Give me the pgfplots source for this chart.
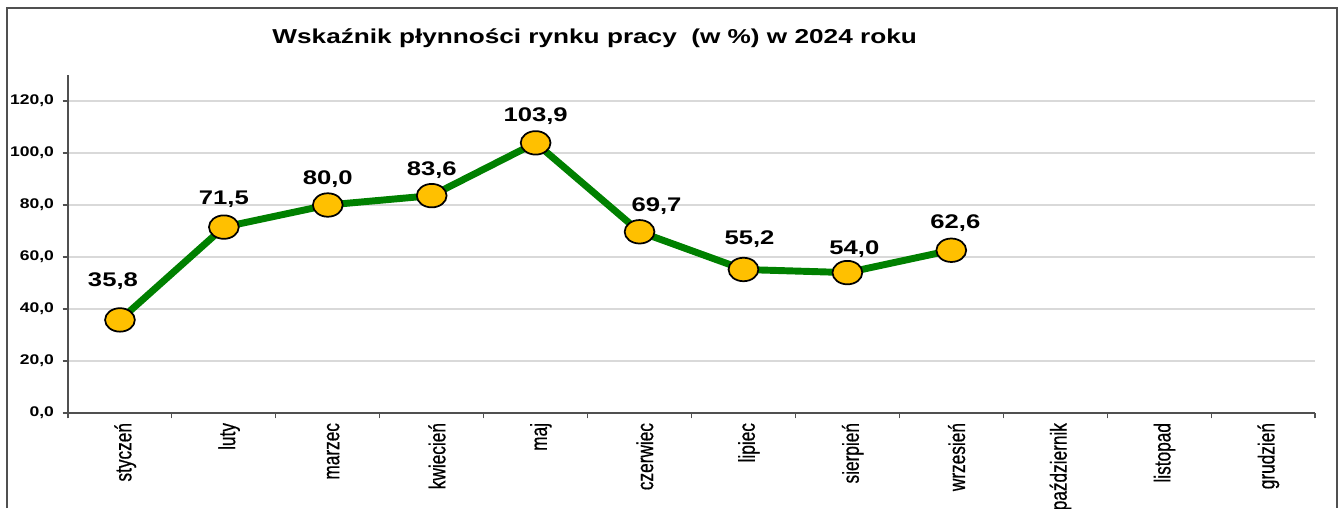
\documentclass[border=0pt]{standalone}
\usepackage{pgfplots}
\pgfplotsset{compat=1.18}
\usepackage{pgfplotstable}
\usepackage{fontspec}
\setmainfont{Liberation Sans}
\newfontfamily\widefont[FakeStretch=1.3]{Liberation Sans}
\newfontfamily\tickfont[FakeStretch=1.25]{Liberation Sans}
\newfontfamily\narrowfont[FakeStretch=0.75,FakeBold=0.6]{Liberation Sans}
\definecolor{lgreen}{HTML}{008000}
\definecolor{lgold}{HTML}{FFC000}
\definecolor{gridc}{HTML}{D9D9D9}
\definecolor{axc}{HTML}{505050}
\pgfplotstableread{
x y dx dy
1 35.8 -7 39
2 71.5 0 28
3 80.0 0 26
4 83.6 0 26
5 103.9 0 27
6 69.7 17 26
7 55.2 6 30
8 54.0 7 23
9 62.6 4 27
}\datatable
\begin{document}
\begin{tikzpicture}
\path[use as bounding box] (0,0) rectangle (1008pt,381pt);
\draw[axc, line width=1.1pt] (5.25pt,0pt) -- (5.25pt,375pt) -- (1002.75pt,375pt) -- (1002.75pt,0pt);
\node[font=\widefont\bfseries\fontsize{15.1pt}{16pt}\selectfont, anchor=center] at (446pt,352pt) {Wskaźnik płynności rynku pracy~~(w \%) w 2024 roku};
\begin{axis}[
  at={(51pt,71.25pt)}, anchor=south west,
  scale only axis, width=935.25pt, height=253.5pt,
  xmin=0.5, xmax=12.5, ymin=0, ymax=130,
  axis x line*=bottom, axis y line*=left,
  axis line style={axc, line width=0.8pt},
  xtick={1,...,12},
  xticklabels={styczeń,luty,marzec,kwiecień,maj,czerwiec,lipiec,sierpień,wrzesień,październik,listopad,grudzień},
  major x tick style={draw=none},
  minor xtick={0.5,1.5,...,12.5},
  minor x tick style={axc, line width=0.8pt},
  minor tick length=4pt,
  x tick label style={font=\narrowfont\fontsize{17.25pt}{18pt}\selectfont, rotate=90, anchor=east, yshift=-4pt},
  ytick={0,20,...,120},
  y tick style={axc, line width=0.8pt},
  major tick length=4pt,
  tick align=outside,
  ymajorgrids, grid style={gridc, line width=0.8pt},
  y tick label style={font=\tickfont\bfseries\fontsize{10.5pt}{12pt}\selectfont, xshift=-3pt},
  yticklabel style={/pgf/number format/.cd, fixed, fixed zerofill, precision=1, use comma, assume math mode=true},
  clip=false,
]
\addplot[lgreen, line width=5.2pt, mark=*, mark size=8.8pt,
  mark options={fill=lgold, draw=black, line width=1.3pt, xscale=1.27},
  nodes near coords,
  point meta=explicit,
  visualization depends on={\thisrow{dx}\as\dx},
  visualization depends on={\thisrow{dy}\as\dy},
  every node near coord/.append style={font=\widefont\bfseries\fontsize{14.8pt}{16pt}\selectfont, black, anchor=center, xshift={0.75pt*\dx}, yshift={0.75pt*\dy},
    /pgf/number format/.cd, fixed, fixed zerofill, precision=1, use comma, assume math mode=true},
] table[x=x, y=y, meta=y] {\datatable};
\end{axis}
\end{tikzpicture}
\end{document}
